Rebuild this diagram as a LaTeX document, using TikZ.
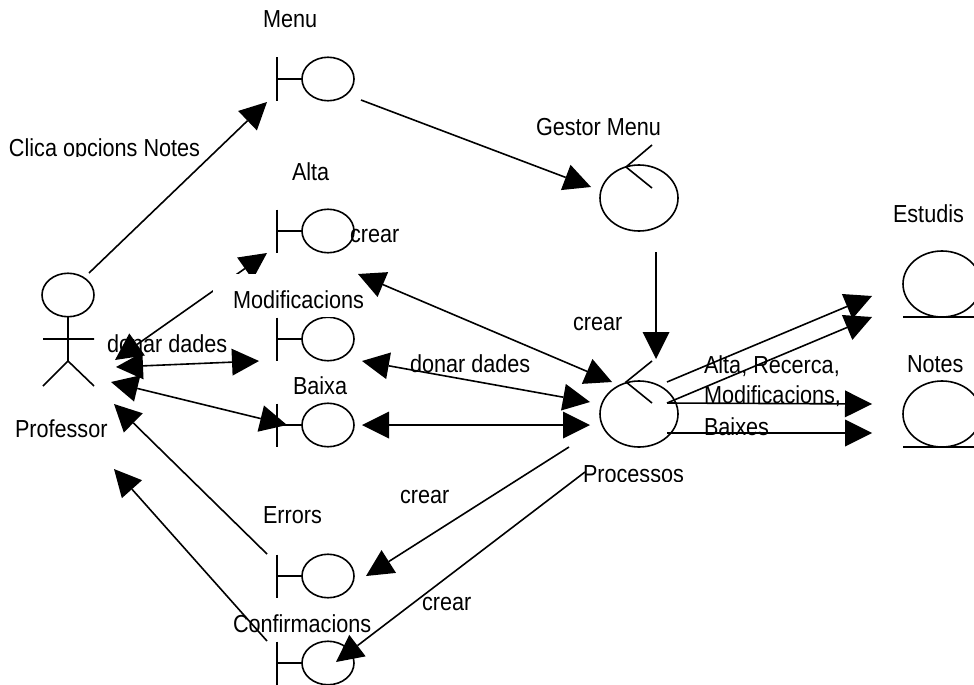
\documentclass[tikz,border=0pt]{standalone}
\usepackage{fontspec}
\setmainfont{Liberation Sans}
\usetikzlibrary{arrows.meta,shapes.geometric}
\tikzset{
  x=1pt,y=-1pt,
  every path/.style={line width=1.6pt,line join=miter},
  lbl/.style={anchor=base west,inner sep=0pt,outer sep=0pt,xscale=.94,yscale=1.07,font=\fontsize{23}{23}\selectfont},
  mask/.style={anchor=north west,fill=white,draw=none,inner sep=0pt,outer sep=0pt},
  ball/.style={draw,ellipse,inner sep=0pt,outer sep=0pt,minimum width=52pt,minimum height=43.5pt,line width=1.6pt},
  big/.style={draw,ellipse,inner sep=0pt,outer sep=0pt,minimum width=78pt,minimum height=66pt,line width=1.6pt},
  conn/.style={-{Triangle[length=27pt,width=27pt,line width=0pt]},line width=1.6pt},
  both/.style={{Triangle[length=27pt,width=27pt,line width=0pt]}-{Triangle[length=27pt,width=27pt,line width=0pt]},line width=1.6pt},
}
\begin{document}
\begin{tikzpicture}
\useasboundingbox (0,0) rectangle (974,685);
\fill[white] (0,0) rectangle (974,685);
% shapes
\node[ball] (menu) at (328,79) {};
\node[ball] (alta) at (328,231) {};
\node[ball] (modif) at (328,339) {};
\node[ball] (baixa) at (328,425) {};
\node[ball] (errors) at (328,576) {};
\node[ball] (confirm) at (328,663) {};
\foreach \n in {menu,alta,modif,baixa,errors,confirm}{
  \draw (\n.west) -- ++(-25,0);
  \draw ([shift={(-25,-21.5)}]\n.west) -- ++(0,43);
}
\node[ball] (head) at (68,295) {};
\coordinate (neck) at (68,317);
\coordinate (hip) at (68,361);
\coordinate (larm) at (43,339);
\coordinate (rarm) at (94,339);
\coordinate (lfoot) at (43,386);
\coordinate (rfoot) at (94,386);
\draw (head.south) -- (hip) (larm) -- (rarm) (lfoot) -- (hip) -- (rfoot);
\node[big] (gestor) at (639,198) {};
\node[big] (proc) at (639,414) {};
\draw (652,145) -- (626,167) -- (652,188);
\draw (652,361) -- (626,382) -- (652,403);
\node[big] (estudis) at (942,284) {};
\node[big] (notes) at (942,414) {};
\draw (903,317) -- (974,317);
\draw (903,447) -- (974,447);
% connector ends
\coordinate (a1) at (89,273);   \coordinate (b1) at (267,102);
\coordinate (a2) at (361,100);  \coordinate (b2) at (591,187);
\coordinate (a3) at (656,252);  \coordinate (b3) at (656,359);
\coordinate (a4) at (115,360);  \coordinate (b4) at (267,253);
\coordinate (a5) at (116,367);  \coordinate (b5) at (259,361);
\coordinate (a6) at (111,382);  \coordinate (b6) at (287,425);
\coordinate (a7) at (267,554);  \coordinate (b7) at (114,404);
\coordinate (a8) at (267,641);  \coordinate (b8) at (114,469);
\coordinate (a9) at (358,274);  \coordinate (b9) at (612,382);
\coordinate (a10) at (362,361); \coordinate (b10) at (590,402);
\coordinate (a11) at (362,425); \coordinate (b11) at (590,425);
\coordinate (a12) at (569,447); \coordinate (b12) at (366,576);
\coordinate (a13) at (585,472); \coordinate (b13) at (336,662);
\coordinate (a14) at (667,382); \coordinate (b14) at (872,296);
\coordinate (a15) at (667,403); \coordinate (b15) at (872,317);
\coordinate (a16) at (667,403); \coordinate (b16) at (872,404);
\coordinate (a17) at (667,433); \coordinate (b17) at (872,433);
% connector covered by the label box
\draw[both] (a4) -- (b4);
\node[mask,minimum width=130pt,minimum height=43pt] (modmask) at (213,274) {};
% labels
\node[lbl] (lmenu) at (263,28) {Menu};
\node[lbl] (lclica) at (9,156) {Clica opcions Notes};
\node[mask,minimum width=195pt,minimum height=7pt] (clicamask) at (8,157) {};
\node[lbl] (lalta) at (292,180) {Alta};
\node[lbl] (lcrear1) at (350,242) {crear};
\node[lbl] (lmod) at (233,308) {Modificacions};
\node[lbl] (ldon1) at (107,352) {donar dades};
\node[lbl] (ldon2) at (410,372) {donar dades};
\node[lbl] (lbaixa) at (293,394) {Baixa};
\node[lbl] (lprof) at (15,437) {Professor};
\node[lbl] (lcrear2) at (573,330) {crear};
\node[lbl] (lgestor) at (536,135) {Gestor Menu};
\node[lbl] (lest) at (893,222) {Estudis};
\node[lbl] (lnotes) at (907,372) {Notes};
\node[lbl] (lar) at (704,373) {Alta, Recerca,};
\node[lbl] (lm2) at (704,403) {Modificacions,};
\node[lbl] (lbx) at (704,435) {Baixes};
\node[lbl] (lproc) at (583,482) {Processos};
\node[mask,minimum width=105pt,minimum height=7pt] (procmask) at (581,482) {};
\node[lbl] (lerr) at (263,523) {Errors};
\node[lbl] (lconf) at (233,632) {Confirmacions};
\node[lbl] (lcrear3) at (400,503) {crear};
\node[lbl] (lcrear4) at (422,610) {crear};
% connectors
\draw[conn] (a1) -- (b1);
\draw[conn] (a2) -- (b2);
\draw[conn,line width=2.2pt] (a3) -- (b3);
\draw[both] (a5) -- (b5);
\draw[both] (a6) -- (b6);
\draw[conn] (a7) -- (b7);
\draw[conn] (a8) -- (b8);
\draw[both] (a9) -- (b9);
\draw[both] (a10) -- (b10);
\draw[both] (a11) -- (b11);
\draw[conn] (a12) -- (b12);
\draw[conn] (a13) -- (b13);
\draw[conn] (a14) -- (b14);
\draw[conn] (a15) -- (b15);
\draw[conn] (a16) -- (b16);
\draw[conn] (a17) -- (b17);
\end{tikzpicture}
\end{document}
